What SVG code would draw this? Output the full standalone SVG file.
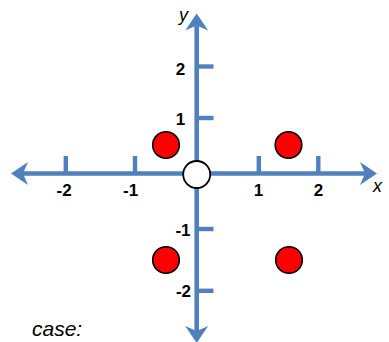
<svg xmlns="http://www.w3.org/2000/svg" width="389" height="342" viewBox="0 0 389 342">
<style>
.axis{stroke:#4F81BD;stroke-width:4.6;fill:none}
.tick{stroke:#4F81BD;stroke-width:4.4;fill:none}
.num{font-family:"Liberation Sans",Arial,sans-serif;font-weight:bold;font-size:17px;fill:#000}
.var{font-family:"Liberation Sans",Arial,sans-serif;font-style:italic;font-size:18px;fill:#000}
.pt{fill:#FF0000;stroke:#000;stroke-width:1.6}
.org{fill:#FFFFFF;stroke:#000;stroke-width:1.8}
.cap{font-family:"Liberation Sans",Arial,sans-serif;font-style:italic;font-size:21px;fill:#000}
</style>
<defs>
<marker id="ah" markerUnits="userSpaceOnUse" orient="auto-start-reverse" refX="0" refY="0" markerWidth="40" markerHeight="40" overflow="visible">
<path d="M12,0 L-5,-11.5 L0,0 L-5,11.5 Z" fill="#4F81BD"/>
</marker>
</defs>
<g id="connectors">
<line id="x-axis" class="axis" x1="23" y1="173.5" x2="365" y2="173.5" marker-start="url(#ah)" marker-end="url(#ah)"/>
<line id="y-axis" class="axis" x1="196.7" y1="25.5" x2="196.7" y2="331" marker-start="url(#ah)" marker-end="url(#ah)"/>
<line class="tick" x1="65.8" y1="156" x2="65.8" y2="173.5"/>
<line class="tick" x1="135" y1="156" x2="135" y2="173.5"/>
<line class="tick" x1="258.8" y1="156" x2="258.8" y2="173.5"/>
<line class="tick" x1="318.3" y1="156" x2="318.3" y2="173.5"/>
<line class="tick" x1="196.7" y1="66.5" x2="213.5" y2="66.5"/>
<line class="tick" x1="196.7" y1="118" x2="213.5" y2="118"/>
<line class="tick" x1="196.7" y1="229" x2="213.5" y2="229"/>
<line class="tick" x1="196.7" y1="290.8" x2="213.5" y2="290.8"/>
</g>
<g id="labels">
<text class="num" x="56.5" y="195.5">-2</text>
<text class="num" x="123" y="195.5">-1</text>
<text class="num" x="258.5" y="195.5" text-anchor="middle">1</text>
<text class="num" x="318.5" y="195.5" text-anchor="middle">2</text>
<text class="num" x="180.5" y="74.5" text-anchor="middle">2</text>
<text class="num" x="180.5" y="125" text-anchor="middle">1</text>
<text class="num" x="190.5" y="236" text-anchor="end">-1</text>
<text class="num" x="191" y="296.5" text-anchor="end">-2</text>
<text class="var" x="373" y="192">x</text>
<text class="var" x="179" y="21">y</text>
</g>
<g id="point-1"><circle class="pt" cx="166" cy="145" r="13.3"/></g>
<g id="point-2"><circle class="pt" cx="288.5" cy="145" r="13.3"/></g>
<g id="point-3"><circle class="pt" cx="166" cy="260" r="13.3"/></g>
<g id="point-4"><circle class="pt" cx="289" cy="260" r="13.3"/></g>
<g id="origin"><circle class="org" cx="196.7" cy="174.5" r="13.5"/></g>
<text class="cap" x="32" y="336">case:</text>
</svg>
